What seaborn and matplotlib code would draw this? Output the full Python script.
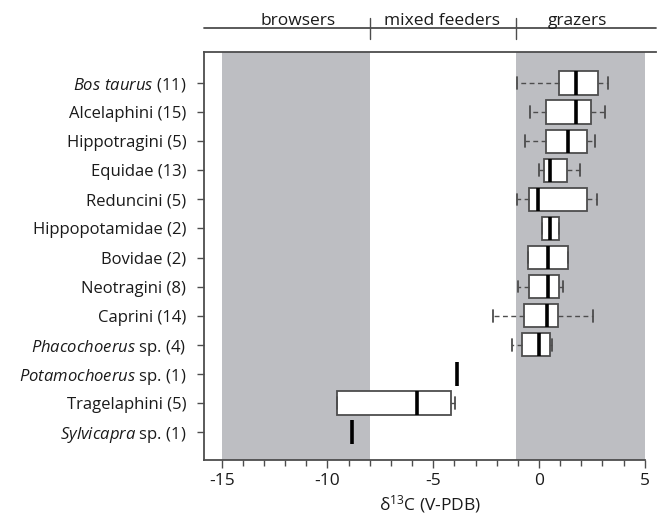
import numpy as np
import pandas as pd
import matplotlib
matplotlib.use("Agg")
import matplotlib.pyplot as plt
import matplotlib.transforms as mtransforms
from matplotlib.ticker import MultipleLocator
import seaborn as sns

# ==========================================================
# DATA (five-number summaries)
# ==========================================================
taxa = [
    r"$\mathit{Bos\ taurus}$ (11)",
    "Alcelaphini (15)",
    "Hippotragini (5)",
    "Equidae (13)",
    "Reduncini (5)",
    "Hippopotamidae (2)",
    "Bovidae (2)",
    "Neotragini (8)",
    "Caprini (14)",
    r"$\mathit{Phacochoerus}$ sp. (4)",
    r"$\mathit{Potamochoerus}$ sp. (1)",
    "Tragelaphini (5)",
    r"$\mathit{Sylvicapra}$ sp. (1)",
]
whislo = [-1.05, -0.43, -0.66, -0.01, -1.02, 0.13, -0.50, -0.98, -2.16, -1.26, -3.88, -9.57, -8.83]
q1     = [ 0.95,  0.35,  0.32,  0.25, -0.47, 0.13, -0.50, -0.47, -0.72, -0.79, -3.88, -9.57, -8.83]
med    = [ 1.73,  1.75,  1.39,  0.52, -0.05, 0.53,  0.44,  0.43,  0.38,  0.01, -3.88, -5.77, -8.83]
q3     = [ 2.77,  2.44,  2.29,  1.31,  2.27, 0.93,  1.39,  0.96,  0.90,  0.50, -3.88, -4.16, -8.83]
whishi = [ 3.28,  3.14,  2.63,  1.94,  2.73, 0.93,  1.39,  1.15,  2.57,  0.61, -3.88, -3.97, -8.83]

# diet zones (delta13C boundaries)
zone_names = ["browsers", "mixed feeders", "grazers"]
zone_label_x = [-11.41, -4.58, 1.80]
zone_edges = [-8.0, -1.1]
shade_spans = [(-15.0, -8.0), (-1.1, 5.0)]

# five values per taxon -> quartiles of these reproduce the summary exactly
rows = []
for name, a, b, c, d, e in zip(taxa, whislo, q1, med, q3, whishi):
    for v in (a, b, c, d, e):
        rows.append({"taxon": name, "d13C": v})
df = pd.DataFrame(rows)

# ==========================================================
# STYLE
# ==========================================================
sns.set_theme(style="ticks")
plt.rcParams["font.family"] = ["Open Sans", "DejaVu Sans"]
plt.rcParams["mathtext.fontset"] = "custom"
plt.rcParams["mathtext.rm"] = "Open Sans"
plt.rcParams["mathtext.it"] = "Open Sans:italic"
plt.rcParams["axes.unicode_minus"] = False

EDGE = "#4d4d4d"
SHADE = "#bdbec2"
TXT = "#1a1a1a"
FS = 12

fig = plt.figure(figsize=(6.58, 5.16), dpi=100)
ax = fig.add_axes([0.3106, 0.1085, 0.687, 0.7907])

for lo, hi in shade_spans:
    ax.axvspan(lo, hi, color=SHADE, lw=0, zorder=0)

sns.boxplot(
    data=df,
    x="d13C",
    y="taxon",
    order=taxa,
    orient="y",
    whis=(0, 100),
    width=0.8,
    color="white",
    saturation=1,
    linecolor=EDGE,
    linewidth=1.3,
    showfliers=False,
    whiskerprops=dict(linestyle=(0, (3.5, 2.5)), linewidth=1.0),
    medianprops=dict(color="black", linewidth=2.6),
    ax=ax,
)

# axes ranges
ax.set_xlim(-15.82, 5.55)
ax.set_ylim(12.96, -1.066)

ax.xaxis.set_major_locator(MultipleLocator(5))
ax.xaxis.set_minor_locator(MultipleLocator(1))
ax.tick_params(axis="x", which="major", length=6, width=1.0, color=EDGE,
               labelsize=12.5, labelcolor=TXT, pad=3)
ax.tick_params(axis="x", which="minor", length=4, width=1.0, color=EDGE)
ax.tick_params(axis="y", length=5, width=1.0, color=EDGE, labelsize=FS,
               labelcolor=TXT, pad=8)

for side in ["left", "bottom", "top"]:
    ax.spines[side].set_color(EDGE)
    ax.spines[side].set_linewidth(1.3)
ax.spines["right"].set_visible(False)
ax.spines["bottom"].set_bounds(-15.82, 5.0)

ax.set_ylabel("")
ax.set_xlabel(r"δ$^{13}$C (V-PDB)", fontsize=12.5, color=TXT, labelpad=3)

# top bracket with diet categories
trans = mtransforms.blended_transform_factory(ax.transData, ax.transAxes)
ax.plot([-15.82, 5.55], [1.0588, 1.0588], transform=trans, color=EDGE,
        lw=1.3, clip_on=False)
for xe in zone_edges:
    ax.plot([xe, xe], [1.032, 1.083], transform=trans, color=EDGE,
            lw=1.0, clip_on=False)
for name, xl in zip(zone_names, zone_label_x):
    ax.text(xl, 1.066, name, transform=trans, ha="center", va="baseline",
            fontsize=12.5, color=TXT)

plt.savefig("out.png", dpi=100)
plt.close()
